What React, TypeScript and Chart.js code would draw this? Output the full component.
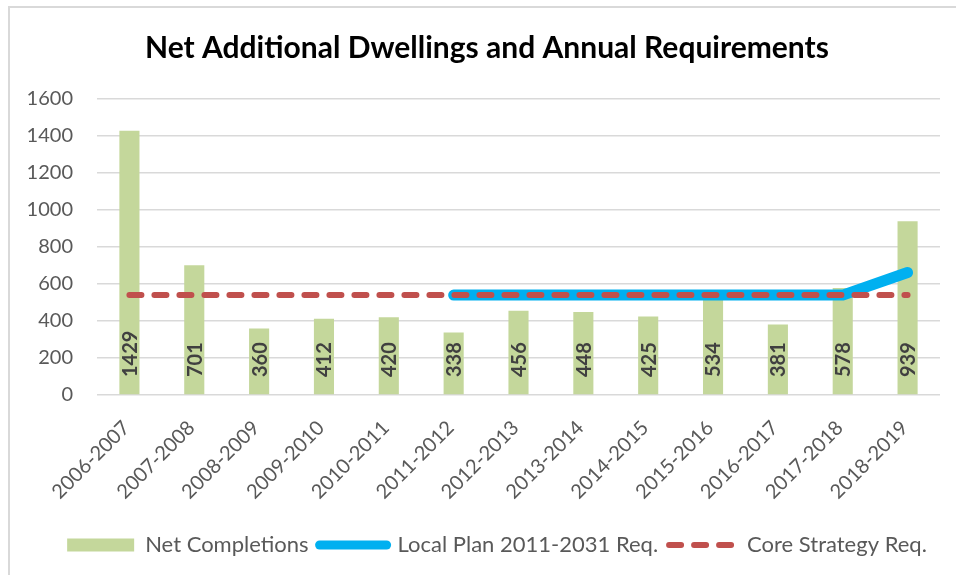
import React, { useEffect, useRef } from "react";
import { Chart, registerables } from "chart.js";

Chart.register(...registerables);

const categories = [
  "2006-2007", "2007-2008", "2008-2009", "2009-2010", "2010-2011", "2011-2012",
  "2012-2013", "2013-2014", "2014-2015", "2015-2016", "2016-2017", "2017-2018", "2018-2019",
];
const netCompletions = [1429, 701, 360, 412, 420, 338, 456, 448, 425, 534, 381, 578, 939];
const localPlanReq = [null, null, null, null, null, 540, 540, 540, 540, 540, 540, 540, 662];
const coreStrategyReq = [540, 540, 540, 540, 540, 540, 540, 540, 540, 540, 540, 540, 540];
const yTicks = [0, 200, 400, 600, 800, 1000, 1200, 1400, 1600];

const FONT = "Lato, 'Open Sans', sans-serif";
const GREEN = "#c4d79b";
const BLUE = "#00b0f0";
const RED = "#c0504d";

const barLabelPlugin = {
  id: "barLabels",
  afterDatasetsDraw(chart: any) {
    const meta = chart.getDatasetMeta(0);
    const ctx = chart.ctx;
    ctx.save();
    ctx.font = `bold 20px ${FONT}`;
    ctx.fillStyle = "#404040";
    ctx.textAlign = "left";
    ctx.textBaseline = "middle";
    meta.data.forEach((bar: any, i: number) => {
      const base = chart.scales.y.getPixelForValue(0);
      ctx.save();
      ctx.translate(bar.x, base - 18);
      ctx.rotate(-Math.PI / 2);
      ctx.fillText(String(netCompletions[i]), 0, 1);
      ctx.restore();
    });
    ctx.restore();
  },
};

// Nudge the centred title and legend to the right, as in the reference
const shiftBoxesPlugin = {
  id: "shiftBoxes",
  afterLayout(chart: any) {
    const t = chart.titleBlock;
    if (t) {
      t.left += 6;
      t.right += 6;
    }
    const l = chart.legend;
    if (l) {
      l.left += 16;
      l.right += 16;
      if (l.legendHitBoxes) l.legendHitBoxes.forEach((b: any) => (b.left += 16));
    }
  },
};

export default function App() {
  const ref = useRef<HTMLCanvasElement | null>(null);

  useEffect(() => {
    if (!ref.current) return;
    const chart = new Chart(ref.current, {
      type: "bar",
      data: {
        labels: categories,
        datasets: [
          {
            type: "bar",
            label: "Net Completions",
            data: netCompletions,
            backgroundColor: GREEN,
            barPercentage: 0.31,
            categoryPercentage: 1,
            order: 3,
          },
          {
            type: "line",
            label: "Local Plan 2011-2031 Req.",
            data: localPlanReq as any,
            borderColor: BLUE,
            backgroundColor: BLUE,
            borderWidth: 11,
            borderCapStyle: "round",
            borderJoinStyle: "round",
            pointRadius: 0,
            spanGaps: false,
            order: 2,
          },
          {
            type: "line",
            label: "Core Strategy Req.",
            data: coreStrategyReq,
            borderColor: RED,
            backgroundColor: RED,
            borderWidth: 6,
            borderDash: [12, 13],
            borderCapStyle: "round",
            pointRadius: 0,
            order: 1,
          },
        ],
      },
      options: {
        animation: false,
        responsive: true,
        maintainAspectRatio: false,
        layout: { padding: { left: 22, right: 16, top: 0, bottom: 9 } },
        plugins: {
          title: {
            display: true,
            text: "Net Additional Dwellings and Annual Requirements",
            color: "#000000",
            font: { family: FONT, size: 30, weight: "bold" },
            padding: { top: 30, bottom: 33 },
          },
          legend: {
            position: "bottom",
            labels: {
              usePointStyle: true,
              pointStyleWidth: 67,
              boxHeight: 13,
              padding: 11,
              color: "#595959",
              font: { family: FONT, size: 22 },
              generateLabels: () => [
                {
                  text: "Net Completions",
                  fillStyle: GREEN,
                  strokeStyle: GREEN,
                  lineWidth: 0,
                  pointStyle: "rect",
                  datasetIndex: 0,
                  fontColor: "#595959",
                },
                {
                  text: "Local Plan 2011-2031 Req.",
                  fillStyle: BLUE,
                  strokeStyle: BLUE,
                  lineWidth: 9,
                  lineCap: "round",
                  pointStyle: "line",
                  datasetIndex: 1,
                  fontColor: "#595959",
                },
                {
                  text: "Core Strategy Req.",
                  fillStyle: RED,
                  strokeStyle: RED,
                  lineWidth: 6,
                  lineCap: "round",
                  lineDash: [12, 13],
                  pointStyle: "line",
                  datasetIndex: 2,
                  fontColor: "#595959",
                },
              ] as any,
            },
          },
          tooltip: { enabled: false },
        },
        scales: {
          x: {
            grid: { display: false, drawTicks: false },
            border: { display: false },
            ticks: {
              color: "#595959",
              font: { family: FONT, size: 20 },
              minRotation: 45,
              maxRotation: 45,
              padding: 21,
              labelOffset: -3,
              autoSkip: false,
            },
            afterFit: (scale: any) => {
              scale.height = 128;
            },
          },
          y: {
            min: 0,
            max: 1600,
            afterBuildTicks: (scale: any) => {
              scale.ticks = yTicks.map((v) => ({ value: v }));
            },
            grid: { color: "#d9d9d9", lineWidth: 1.5, drawTicks: false },
            border: { display: false },
            ticks: {
              color: "#595959",
              font: { family: FONT, size: 20 },
              padding: 24,
              callback: (v: any) => String(v),
            },
            afterFit: (scale: any) => {
              scale.width = 75;
            },
          },
        } as any,
      },
      plugins: [barLabelPlugin, shiftBoxesPlugin],
    });
    return () => chart.destroy();
  }, []);

  return (
    <div style={{ position: "fixed", left: 0, top: 0, width: 956, height: 575, background: "#ffffff" }}>
      <div
        style={{
          position: "absolute",
          left: 8,
          top: 6,
          width: 1000,
          height: 600,
          borderLeft: "2px solid #d9d9d9",
          borderTop: "2px solid #d9d9d9",
        }}
      />
      <div style={{ position: "absolute", left: 0, top: 0, width: 956, height: 575 }}>
        <canvas ref={ref} />
      </div>
    </div>
  );
}
